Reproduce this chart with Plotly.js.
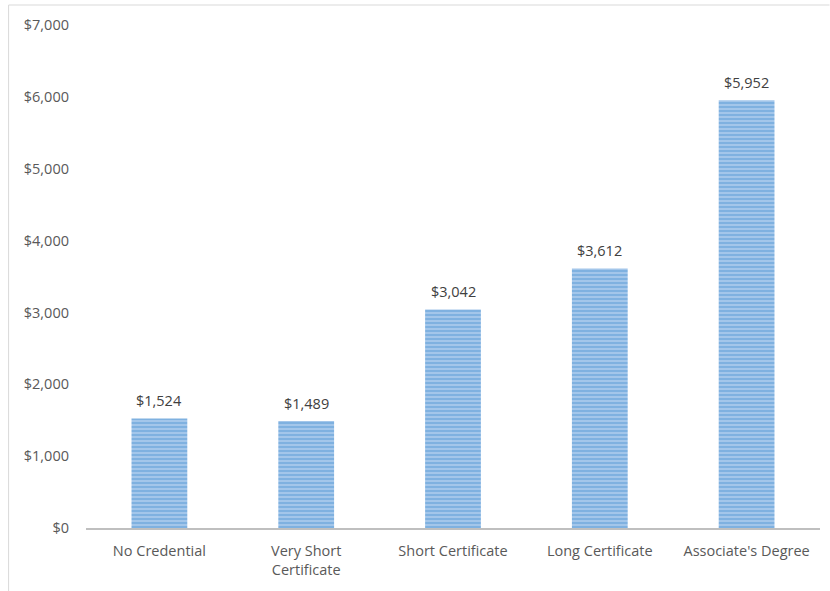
<!DOCTYPE html>
<html>
<head>
<meta charset="utf-8">
<script src="https://cdn.plot.ly/plotly-3.0.1.min.js"></script>
<style>
html,body{margin:0;padding:0;background:#fff;}
#chart{width:830px;height:591px;}
</style>
</head>
<body>
<div id="chart"></div>
<script>
const categories = ["No Credential", "Very Short<br>Certificate", "Short Certificate", "Long Certificate", "Associate's Degree"];
const values = [1524, 1489, 3042, 3612, 5952];
const labels = ["$1,524", "$1,489", "$3,042", "$3,612", "$5,952"];
const tickVals = [0, 1000, 2000, 3000, 4000, 5000, 6000, 7000];
const tickText = ["$0", "$1,000", "$2,000", "$3,000", "$4,000", "$5,000", "$6,000", "$7,000"];

const L = 85.5, R = 820.5, T = 25, B = 528;
const W = R - L, H = B - T;
const px = x => (x - L) / W;
const py = y => (B - y) / H;
const FONT = "Open Sans, Liberation Sans, sans-serif";

const trace = {
  type: "bar",
  x: categories,
  y: values,
  cliponaxis: false,
  marker: {
    color: "#9dc3e6",
    line: {width: 0},
    pattern: {shape: "-", fgcolor: "#5b9bd5", bgcolor: "#a3c6ea", size: 4, solidity: 0.5, fillmode: "overlay"}
  },
  hoverinfo: "none"
};

const annotations = categories.map((c, i) => ({
  x: c, y: values[i], xref: "x", yref: "y",
  text: labels[i], showarrow: false,
  yanchor: "bottom", yshift: 6,
  font: {family: FONT, size: 14.5, color: "#404040"}
}));

const layout = {
  width: 830, height: 591,
  margin: {l: L, r: 830 - R, t: T, b: 591 - B},
  paper_bgcolor: "#ffffff",
  plot_bgcolor: "#ffffff",
  bargap: 0.62,
  showlegend: false,
  font: {family: FONT, size: 14.5, color: "#595959"},
  xaxis: {
    type: "category",
    showgrid: false,
    zeroline: false,
    showline: true,
    linecolor: "#bfbfbf",
    linewidth: 2,
    ticks: "",
    ticklabelstandoff: 9,
    tickfont: {family: FONT, size: 14.5, color: "#595959"},
    fixedrange: true
  },
  yaxis: {
    range: [0, 7000],
    tickvals: tickVals,
    ticktext: tickText,
    showgrid: false,
    zeroline: false,
    showline: false,
    ticks: "",
    ticklabelstandoff: 16,
    tickfont: {family: FONT, size: 14.5, color: "#595959"},
    fixedrange: true
  },
  annotations: annotations,
  shapes: [
    {type: "line", xref: "paper", yref: "paper", x0: px(8), x1: px(830), y0: py(5), y1: py(5), line: {color: "#d9d9d9", width: 1}},
    {type: "line", xref: "paper", yref: "paper", x0: px(8), x1: px(8), y0: py(5), y1: py(591), line: {color: "#d9d9d9", width: 1}}
  ]
};

Plotly.newPlot("chart", [trace], layout, {displayModeBar: false, staticPlot: true});
</script>
</body>
</html>
